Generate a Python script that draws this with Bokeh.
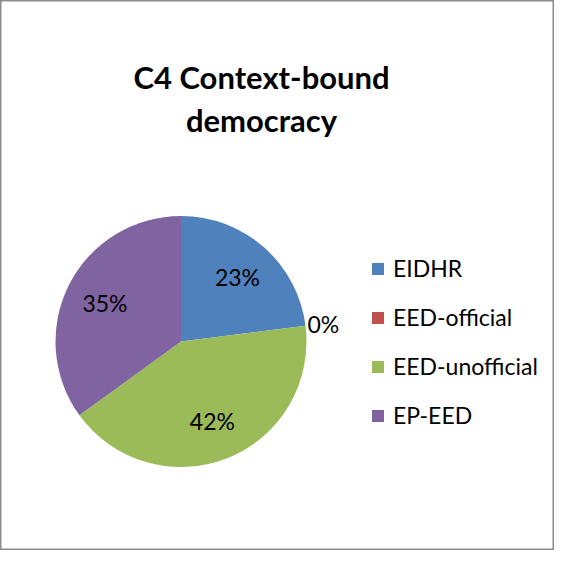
import numpy as np
from bokeh.plotting import figure
from bokeh.models import ColumnDataSource, Range1d, Legend, LegendItem
from bokeh.core.properties import value
from bokeh.embed import file_html
from bokeh.resources import INLINE

# ---- data ----
title_lines = ["C4 Context-bound", "democracy"]
categories = ["EIDHR", "EED-official", "EED-unofficial", "EP-EED"]
shares = [23, 0, 42, 35]
colors = ["#4F81BD", "#C0504D", "#9BBB59", "#8064A2"]

# ---- layout ----
W, H = 554, 550
CX, CY, R = 180.5, 209.0, 125.5
FONT = "Lato"

vals = np.array(shares, dtype=float)
frac = vals / vals.sum()
cum = np.concatenate([[0.0], np.cumsum(frac)])
start = np.pi / 2 - 2 * np.pi * cum[1:]
end = np.pi / 2 - 2 * np.pi * cum[:-1]
mid = (start + end) / 2
lab_r = np.where(frac < 0.03, R + 18, R * 0.68)

src = ColumnDataSource(dict(
    cat=categories,
    start=start,
    end=end,
    color=colors,
    radius=np.where(frac > 0, R, 0.0),
    lx=CX + lab_r * np.cos(mid),
    ly=CY + lab_r * np.sin(mid),
    lab=[f"{round(f * 100)}%" for f in frac],
))

p = figure(width=W, height=H, output_backend="svg", toolbar_location=None,
           x_range=Range1d(0, W), y_range=Range1d(0, H), min_border=0)
p.xaxis.visible = False
p.yaxis.visible = False
p.grid.visible = False
p.outline_line_color = "#8C8C8C"
p.outline_line_width = 2
p.background_fill_color = "white"
p.border_fill_color = "white"

r = p.wedge(x=CX, y=CY, radius="radius", radius_units="screen",
            start_angle="start", end_angle="end", direction="anticlock",
            fill_color="color", line_color=None, source=src)

p.text(x="lx", y="ly", text="lab", source=src, text_font=value(FONT),
       text_font_size="23px", text_align="center", text_baseline="middle",
       text_color="black")

tsrc = ColumnDataSource(dict(x=[261, 261], y=[474, 431], t=title_lines))
p.text(x="x", y="y", text="t", source=tsrc, text_font=value(FONT),
       text_font_size="31px", text_font_style="bold", text_align="center",
       text_baseline="alphabetic", text_color="black")

legend = Legend(
    items=[LegendItem(label=c, renderers=[r], index=i) for i, c in enumerate(categories)],
    location=(370, 121),
    orientation="vertical",
    padding=0, margin=0, spacing=21,
    glyph_width=15, glyph_height=15, label_height=24,
    label_standoff=8,
    label_text_font=FONT, label_text_font_size="23px", label_text_color="black",
    border_line_color=None, background_fill_alpha=0,
)
p.add_layout(legend, "center")

open("out.html", "w").write(file_html(p, INLINE))
